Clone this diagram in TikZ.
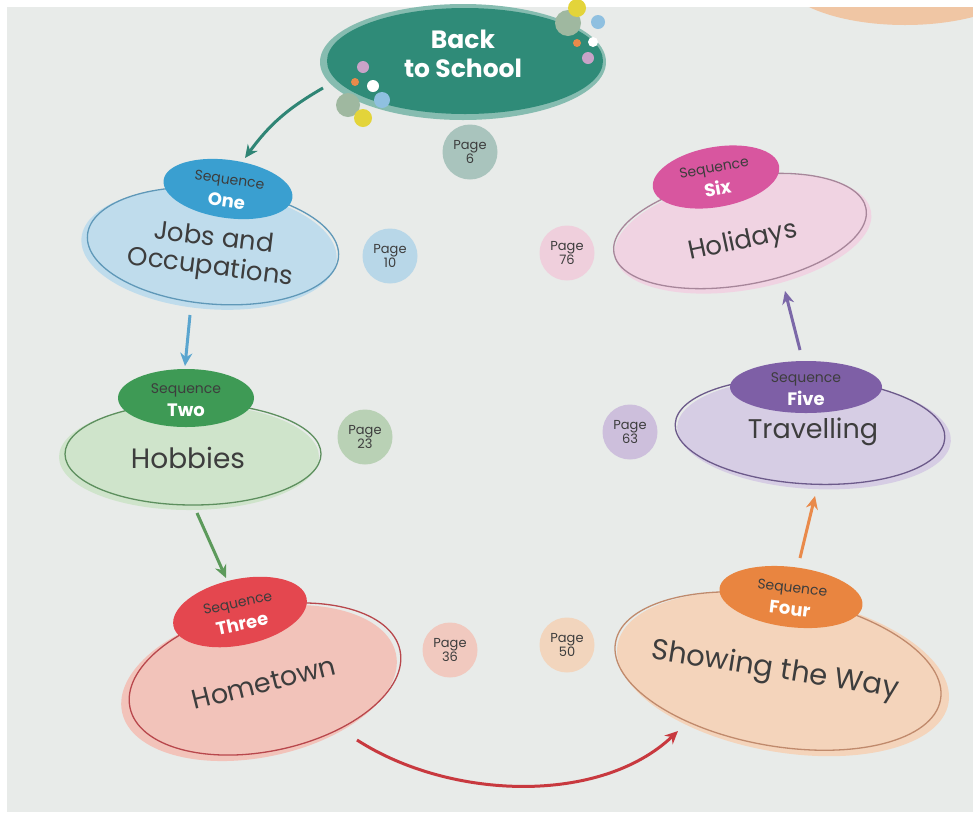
\documentclass[tikz,border=0pt]{standalone}
\usepackage{fontspec}
\setmainfont{Poppins}
\usetikzlibrary{shapes.geometric,arrows.meta}
\definecolor{bg}{HTML}{E8EBE9}
\definecolor{txt}{HTML}{3D3D3D}
\definecolor{teal}{HTML}{2F8B78}
\definecolor{tealring}{HTML}{86BCB0}
\definecolor{pgsix}{HTML}{A9C4BD}
\definecolor{sOne}{HTML}{3A9FD0}\definecolor{fOne}{HTML}{BFDCEC}\definecolor{lOne}{HTML}{5F98B8}\definecolor{pOne}{HTML}{B8D7E8}
\definecolor{sTwo}{HTML}{3E9A55}\definecolor{fTwo}{HTML}{CFE4CB}\definecolor{lTwo}{HTML}{5D8F5E}\definecolor{pTwo}{HTML}{B9D1B5}
\definecolor{sThr}{HTML}{E4474F}\definecolor{fThr}{HTML}{F2C3BA}\definecolor{lThr}{HTML}{B8474C}\definecolor{pThr}{HTML}{F1C9BF}
\definecolor{sFou}{HTML}{E98540}\definecolor{fFou}{HTML}{F4D4BB}\definecolor{lFou}{HTML}{C08A6C}\definecolor{pFou}{HTML}{F2D5BD}
\definecolor{sFiv}{HTML}{7E5FA6}\definecolor{fFiv}{HTML}{D6CDE4}\definecolor{lFiv}{HTML}{6C5A8A}\definecolor{pFiv}{HTML}{CDBFDC}
\definecolor{sSix}{HTML}{D8569F}\definecolor{fSix}{HTML}{F0D3E2}\definecolor{lSix}{HTML}{A7869A}\definecolor{pSix}{HTML}{EFCFDC}
\definecolor{aOne}{HTML}{2F8575}\definecolor{aTwo}{HTML}{5AA5CF}\definecolor{aThr}{HTML}{5C9A5B}
\definecolor{aFou}{HTML}{C8393F}\definecolor{aFiv}{HTML}{E98A4B}\definecolor{aSix}{HTML}{7B68A8}
\definecolor{peach}{HTML}{F0C6A4}
\definecolor{dLil}{HTML}{C9A3C8}\definecolor{dOra}{HTML}{E98A4B}\definecolor{dGre}{HTML}{9FB8A0}
\definecolor{dBlu}{HTML}{8FC0E0}\definecolor{dYel}{HTML}{E3D43A}
\newcommand{\seqword}[1]{{\color{white}\bfseries\fontsize{18}{21}\selectfont #1}}
\begin{document}
\begin{tikzpicture}[x=1pt,y=-1pt,
  ell/.style={ellipse, inner sep=0pt, draw=none},
  outl/.style={ellipse, inner sep=0pt, line width=1.3pt, fill=none},
  seqtxt/.style={font=\fontsize{14}{20}\selectfont, text=txt, align=center, inner sep=0pt},
  title/.style={font=\fontsize{26}{29}\selectfont, text=txt, align=center},
  pagec/.style={circle, inner sep=0pt, minimum size=55pt, font=\fontsize{13}{14}\selectfont, text=txt, align=center},
  arr/.style={line width=3pt, -{Stealth[length=13pt,width=12pt]}},
  dot/.style={circle, inner sep=0pt}]
\useasboundingbox (0,0) rectangle (973,812);
\fill[white] (0,0) rectangle (973,812);
\fill[bg] (7,7) rectangle (973,812);
\begin{scope}
\clip (7,7) rectangle (973,812);
\fill[peach] (905,-25) ellipse [x radius=125pt, y radius=50pt];
\end{scope}

% Back to School
\node[ell, fill=tealring, minimum width=286pt, minimum height=116pt] (bsring) at (463,62) {};
\node[ell, fill=teal, minimum width=276pt, minimum height=106pt] (bs) at (465,61) {};
\node[font=\bfseries\fontsize{25}{29}\selectfont, text=white, align=center] (bsT) at (463,54) {Back\\to School};
\foreach \x/\y/\r/\c [count=\i] in {363/67/6/dLil, 355/82/4/dOra, 373/86/6/white, 348/105/12/dGre, 382/100/8/dBlu, 363/118/9/dYel,
  568/23/13/dGre, 577/8/9/dYel, 598/22/7/dBlu, 577/43/4/dOra, 593/42/5/white, 588/58/6/dLil}
  \node[dot, fill=\c, minimum size=2*\r pt] (dot\i) at (\x,\y) {};
\node[pagec, fill=pgsix] (p6) at (470,152) {Page\\6};

% Sequence One
\node[ell, fill=fOne, minimum width=256pt, minimum height=120pt, rotate=-5] (jobsF) at (209,249) {};
\node[outl, draw=lOne, minimum width=252pt, minimum height=116pt, rotate=-5] (jobsO) at (213,246) {};
\node[ell, fill=sOne, minimum width=130pt, minimum height=58pt, rotate=-8] (oneS) at (228,189) {};
\node[seqtxt, rotate=-8] (oneT) at (228,191) {Sequence\\[3pt]\seqword{One}};
\node[title, rotate=-7] (jobsT) at (212,254) {Jobs and\\Occupations};
\node[pagec, fill=pOne] (p10) at (390,256) {Page\\10};

% Sequence Two
\node[ell, fill=fTwo, minimum width=260pt, minimum height=106pt] (hobF) at (189,457) {};
\node[outl, draw=lTwo, minimum width=256pt, minimum height=102pt] (hobO) at (193,454) {};
\node[ell, fill=sTwo, minimum width=136pt, minimum height=58pt] (twoS) at (186,398) {};
\node[seqtxt] (twoT) at (186,400) {Sequence\\[3pt]\seqword{Two}};
\node[title, font=\fontsize{28}{30}\selectfont] (hobT) at (188,458) {Hobbies};
\node[pagec, fill=pTwo] (p23) at (365,437) {Page\\23};

% Sequence Three
\node[ell, fill=fThr, minimum width=280pt, minimum height=148pt, rotate=12] (homF) at (259,683) {};
\node[outl, draw=lThr, minimum width=276pt, minimum height=144pt, rotate=12] (homO) at (265,679) {};
\node[ell, fill=sThr, minimum width=136pt, minimum height=66pt, rotate=12] (thrS) at (240,612) {};
\node[seqtxt, rotate=12] (thrT) at (240,614) {Sequence\\[3pt]\seqword{Three}};
\node[title, rotate=14, font=\fontsize{27}{29}\selectfont] (homT) at (264,683) {Hometown};
\node[pagec, fill=pThr] (p36) at (450,650) {Page\\36};

% Sequence Four
\node[ell, fill=fFou, minimum width=336pt, minimum height=156pt, rotate=-10] (shoF) at (783,674) {};
\node[outl, draw=lFou, minimum width=330pt, minimum height=150pt, rotate=-10] (shoO) at (778,671) {};
\node[ell, fill=sFou, minimum width=144pt, minimum height=60pt, rotate=-7] (fouS) at (791,597) {};
\node[seqtxt, rotate=-7] (fouT) at (791,599) {Sequence\\[3pt]\seqword{Four}};
\node[title, rotate=-9, font=\fontsize{29}{31}\selectfont] (shoT) at (775,671) {Showing the Way};
\node[pagec, fill=pFou] (p50) at (567,645) {Page\\50};

% Sequence Five
\node[ell, fill=fFiv, minimum width=274pt, minimum height=110pt, rotate=-3] (traF) at (814,434) {};
\node[outl, draw=lFiv, minimum width=270pt, minimum height=106pt, rotate=-3] (traO) at (810,431) {};
\node[ell, fill=sFiv, minimum width=152pt, minimum height=52pt] (fivS) at (806,387) {};
\node[seqtxt] (fivT) at (806,389) {Sequence\\[3pt]\seqword{Five}};
\node[title, font=\fontsize{27}{29}\selectfont] (traT) at (813,432) {Travelling};
\node[pagec, fill=pFiv] (p63) at (630,432) {Page\\63};

% Sequence Six
\node[ell, fill=fSix, minimum width=260pt, minimum height=112pt, rotate=10] (holF) at (743,234) {};
\node[outl, draw=lSix, minimum width=256pt, minimum height=108pt, rotate=10] (holO) at (740,231) {};
\node[ell, fill=sSix, minimum width=128pt, minimum height=60pt, rotate=10] (sixS) at (716,177) {};
\node[seqtxt, rotate=10] (sixT) at (716,179) {Sequence\\[3pt]\seqword{Six}};
\node[title, rotate=12] (holT) at (743,242) {Holidays};
\node[pagec, fill=pSix] (p76) at (567,253) {Page\\76};

% connectors
\coordinate (a1s) at (323,88);  \coordinate (a1e) at (245,158);
\coordinate (a2s) at (190,315); \coordinate (a2e) at (185,366);
\coordinate (a3s) at (197,513); \coordinate (a3e) at (226,578);
\coordinate (a4s) at (357,740); \coordinate (a4e) at (678,731);
\coordinate (a5s) at (800,558); \coordinate (a5e) at (815,496);
\coordinate (a6s) at (800,350); \coordinate (a6e) at (785,291);
\draw[arr, aOne] (a1s) to[bend right=12] (a1e);
\draw[arr, aTwo] (a2s) -- (a2e);
\draw[arr, aThr] (a3s) -- (a3e);
\draw[arr, aFou] (a4s) .. controls (450,800) and (600,805) .. (a4e);
\draw[arr, aFiv] (a5s) -- (a5e);
\draw[arr, aSix] (a6s) -- (a6e);
\end{tikzpicture}
\end{document}
